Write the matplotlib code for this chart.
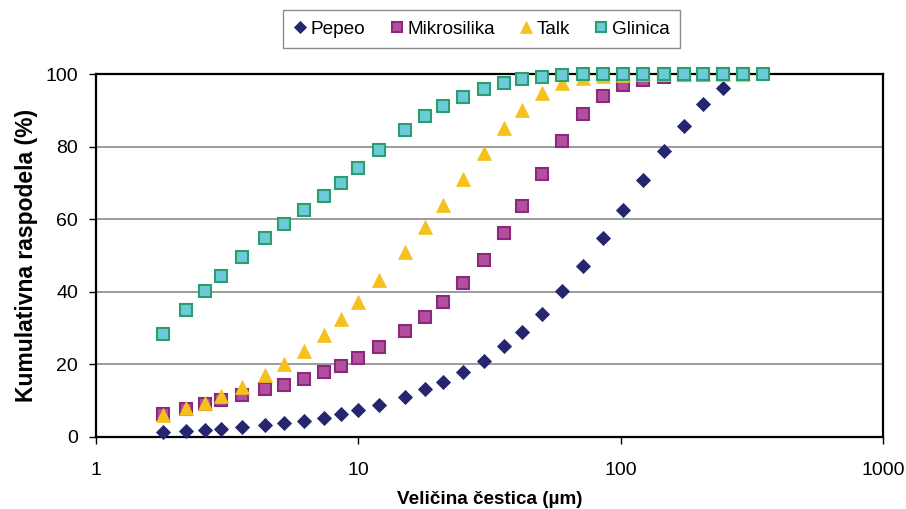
import numpy as np
import matplotlib
matplotlib.use("Agg")
import matplotlib.pyplot as plt
from matplotlib.ticker import FixedLocator, NullLocator

plt.rcParams["font.family"] = ["Liberation Sans", "DejaVu Sans"]

# particle size classes (um)
size = [1.8, 2.2, 2.6, 3.0, 3.6, 4.4, 5.2, 6.2, 7.4, 8.6, 10, 12, 15, 18, 21,
        25, 30, 36, 42, 50, 60, 72, 86, 102, 122, 146, 174, 206, 246, 292, 350]

# cumulative distribution (%) per material
pepeo = [1.3, 1.7, 1.9, 2.2, 2.8, 3.2, 3.9, 4.4, 5.3, 6.3, 7.4, 8.8, 11.0, 13.2,
         15.2, 17.8, 21.0, 25.0, 28.8, 34.0, 40.1, 47.0, 54.7, 62.4, 70.7, 78.7,
         85.8, 91.6, 96.2]
mikrosilika = [6.4, 7.8, 9.1, 10.2, 11.6, 13.2, 14.4, 16.0, 17.9, 19.6, 21.8,
               24.8, 29.2, 33.1, 37.2, 42.4, 48.8, 56.2, 63.6, 72.5, 81.5, 89.0,
               94.0, 97.0, 98.4, 99.2, 99.6, 99.8, 100, 100]
talk = [6.0, 8.0, 9.4, 11.3, 13.8, 17.1, 20.1, 23.7, 28.1, 32.6, 37.2, 43.3,
        51.0, 57.9, 63.9, 71.0, 78.2, 85.1, 90.1, 94.8, 97.5, 98.9, 99.5, 99.8,
        100, 100, 100, 100, 100, 100]
glinica = [28.3, 34.9, 40.1, 44.4, 49.6, 54.8, 58.8, 62.4, 66.4, 70.0, 74.0,
           79.1, 84.6, 88.4, 91.2, 93.7, 95.9, 97.6, 98.7, 99.3, 99.7, 100, 100,
           100, 100, 100, 100, 100, 100, 100, 100]

yticks = [0, 20, 40, 60, 80, 100]
xticks = [1, 10, 100, 1000]

fig = plt.figure(figsize=(9.06, 5.09), dpi=100)
ax = fig.add_axes([0.106, 0.1415, 0.8686, 0.7131])

ax.plot(size[:len(pepeo)], pepeo, ls="none", marker="D", ms=7.2,
        mfc="#262670", mec="#262670", mew=0.6, label="Pepeo",
        zorder=4, clip_on=False)
ax.plot(size[:len(mikrosilika)], mikrosilika, ls="none", marker="s", ms=8.2,
        mfc="#b44f9f", mec="#8a2a7e", mew=1.5, label="Mikrosilika",
        zorder=5, clip_on=False)
ax.plot(size[:len(talk)], talk, ls="none", marker="^", ms=9.5,
        mfc="#f5c11c", mec="#f5c11c", mew=0.5, label="Talk",
        zorder=6, clip_on=False)
ax.plot(size[:len(glinica)], glinica, ls="none", marker="s", ms=8.2,
        mfc="#6dcad8", mec="#2b9e6e", mew=1.5, label="Glinica",
        zorder=7, clip_on=False)

ax.set_xscale("log")
ax.set_xlim(1, 1000)
ax.set_ylim(0, 100)
ax.xaxis.set_major_locator(FixedLocator(xticks))
ax.xaxis.set_minor_locator(NullLocator())
ax.set_xticklabels([str(v) for v in xticks])
ax.set_yticks(yticks)

for v in yticks[1:-1]:
    ax.axhline(v, color="#808080", lw=1.1, zorder=1)

for sp in ax.spines.values():
    sp.set_color("black")
    sp.set_linewidth(1.6)
    sp.set_zorder(3)

ax.tick_params(axis="x", direction="out", length=5, width=1, pad=13,
               labelsize=14)
ax.tick_params(axis="y", direction="out", length=5, width=1, pad=8,
               labelsize=14)

ax.set_xlabel("Veličina čestica (µm)", fontsize=13.6, fontweight="bold",
              labelpad=9)
ax.set_ylabel("Kumulativna raspodela (%)", fontsize=16.5, fontweight="bold",
              labelpad=5)

leg = ax.legend(loc="lower center", bbox_to_anchor=(0.49, 1.0716), ncol=4,
                frameon=True, fancybox=False, fontsize=13.7, markerscale=0.85,
                handlelength=0.7, handletextpad=0.2, columnspacing=1.3,
                borderpad=0.55, borderaxespad=0, numpoints=1)
leg.get_frame().set_edgecolor("#707070")
leg.get_frame().set_linewidth(1.0)

fig.savefig("out.png", dpi=100)
plt.close(fig)
